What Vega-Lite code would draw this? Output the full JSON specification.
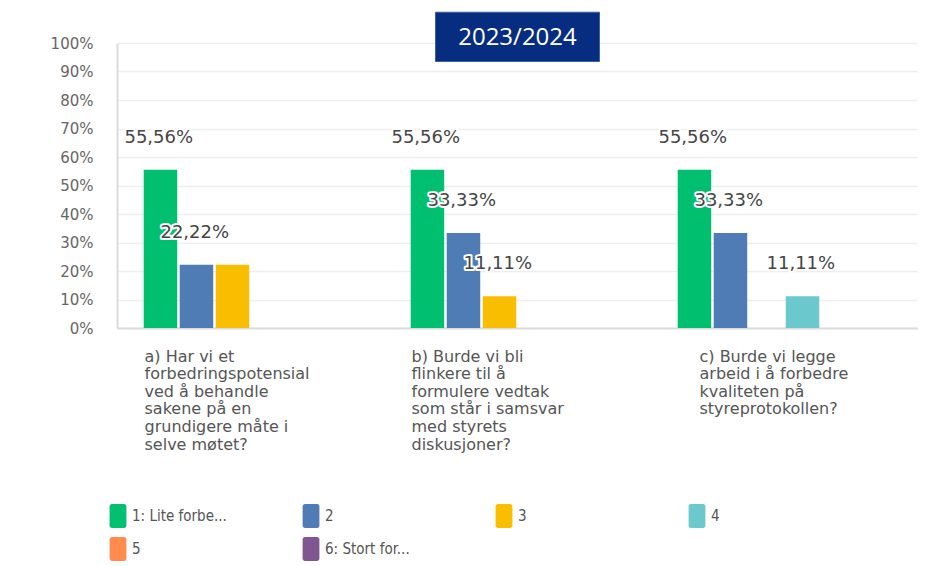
{
  "$schema": "https://vega.github.io/schema/vega-lite/v6.json",
  "background": "white",
  "padding": {"left": 50, "top": 11, "right": 0, "bottom": 0},
  "config": {
    "font": "DejaVu Sans",
    "view": {"stroke": null},
    "locale": {"number": {"decimal": ",", "thousands": " ", "grouping": [3], "currency": ["", " kr"]}},
    "axisY": {
      "title": null, "ticks": false, "labelFontSize": 15, "labelColor": "#666666", "labelPadding": 24,
      "domainColor": "#dcdcdc", "domainWidth": 2, "gridColor": "#eeeeee", "gridWidth": 1.5
    }
  },
  "width": 801,
  "height": 285,
  "datasets": {
    "answers": [
      {"question": "a) Har vi et\nforbedringspotensial\nved å behandle\nsakene på en\ngrundigere måte i\nselve møtet?", "level": "1: Lite forbe...", "share": 0.5556},
      {"question": "a) Har vi et\nforbedringspotensial\nved å behandle\nsakene på en\ngrundigere måte i\nselve møtet?", "level": "2", "share": 0.2222},
      {"question": "a) Har vi et\nforbedringspotensial\nved å behandle\nsakene på en\ngrundigere måte i\nselve møtet?", "level": "3", "share": 0.2222},
      {"question": "b) Burde vi bli\nflinkere til å\nformulere vedtak\nsom står i samsvar\nmed styrets\ndiskusjoner?", "level": "1: Lite forbe...", "share": 0.5556},
      {"question": "b) Burde vi bli\nflinkere til å\nformulere vedtak\nsom står i samsvar\nmed styrets\ndiskusjoner?", "level": "2", "share": 0.3333},
      {"question": "b) Burde vi bli\nflinkere til å\nformulere vedtak\nsom står i samsvar\nmed styrets\ndiskusjoner?", "level": "3", "share": 0.1111},
      {"question": "c) Burde vi legge\narbeid i å forbedre\nkvaliteten på\nstyreprotokollen?", "level": "1: Lite forbe...", "share": 0.5556},
      {"question": "c) Burde vi legge\narbeid i å forbedre\nkvaliteten på\nstyreprotokollen?", "level": "2", "share": 0.3333},
      {"question": "c) Burde vi legge\narbeid i å forbedre\nkvaliteten på\nstyreprotokollen?", "level": "4", "share": 0.1111}
    ],
    "heading": [{"title": "2023/2024", "question": "b) Burde vi bli\nflinkere til å\nformulere vedtak\nsom står i samsvar\nmed styrets\ndiskusjoner?"}]
  },
  "layer": [
    {
      "data": {"name": "answers"},
      "mark": {"type": "bar"},
      "encoding": {
        "x": {
          "field": "question", "type": "nominal", "sort": null,
          "scale": {"paddingInner": 0.2, "paddingOuter": 0.1},
          "axis": {
            "title": null, "ticks": false, "domainColor": "#dcdcdc", "domainWidth": 2,
            "labelAngle": 0, "labelAlign": "left", "labelBaseline": "top", "labelPadding": 20,
            "labelLineHeight": 17.6, "labelFontSize": 16, "labelColor": "#555555",
            "labelLimit": 0, "labelOverlap": false,
            "labelExpr": "split(datum.label, '\\n')",
            "labelOffset": {"condition": {"test": "indexof(datum.value, 'c)') == 0", "value": -85}, "value": -106}
          }
        },
        "y": {
          "field": "share", "type": "quantitative",
          "scale": {"domain": [0, 1], "nice": false},
          "axis": {"values": [0, 0.1, 0.2, 0.3, 0.4, 0.5, 0.6, 0.7, 0.8, 0.9, 1], "format": ".0%"}
        },
        "xOffset": {
          "field": "level", "type": "nominal",
          "scale": {"domain": ["1: Lite forbe...", "2", "3", "4", "5", "6: Stort for..."], "paddingInner": 0.07}
        },
        "color": {
          "field": "level", "type": "nominal",
          "scale": {
            "domain": ["1: Lite forbe...", "2", "3", "4", "5", "6: Stort for..."],
            "range": ["#00bf6f", "#507cb6", "#f9be00", "#6bc8cd", "#ff8b4f", "#7f5691"]
          },
          "legend": {
            "orient": "none", "legendX": -11, "legendY": 461, "direction": "horizontal",
            "columns": 4, "gridAlign": "all", "columnPadding": 72, "rowPadding": 8,
            "symbolType": "M-0.5,-1H0.5A0.2,0.2 0 0 1 0.7,-0.8V0.8A0.2,0.2 0 0 1 0.5,1H-0.5A0.2,0.2 0 0 1 -0.7,0.8V-0.8A0.2,0.2 0 0 1 -0.5,-1Z",
            "symbolSize": 576, "symbolStrokeWidth": 0, "symbolOpacity": 1,
            "labelFont": "'DejaVu Sans Condensed', Roboto, sans-serif", "labelFontSize": 15, "labelColor": "#555555",
            "labelOffset": 2, "labelLimit": 0, "title": null, "padding": 0
          }
        }
      }
    },
    {
      "data": {"name": "answers"},
      "transform": [
        {"window": [{"op": "lag", "field": "share", "as": "prev"}], "groupby": ["question"], "sort": [{"field": "level"}]},
        {"filter": "datum.prev == null || datum.share != datum.prev"}
      ],
      "mark": {"type": "text", "align": "left", "baseline": "middle", "dx": -36, "dy": -32, "fontSize": 18, "fill": "white", "stroke": "white", "strokeWidth": 4, "strokeJoin": "round"},
      "encoding": {
        "x": {"field": "question", "type": "nominal", "sort": null},
        "y": {"field": "share", "type": "quantitative", "axis": {"values": [0, 0.1, 0.2, 0.3, 0.4, 0.5, 0.6, 0.7, 0.8, 0.9, 1], "format": ".0%"}},
        "xOffset": {"field": "level", "type": "nominal"},
        "text": {"field": "share", "type": "quantitative", "format": ".2%"}
      }
    },
    {
      "data": {"name": "answers"},
      "transform": [
        {"window": [{"op": "lag", "field": "share", "as": "prev"}], "groupby": ["question"], "sort": [{"field": "level"}]},
        {"filter": "datum.prev == null || datum.share != datum.prev"}
      ],
      "mark": {"type": "text", "align": "left", "baseline": "middle", "dx": -36, "dy": -32, "fontSize": 18, "color": "#454545"},
      "encoding": {
        "x": {"field": "question", "type": "nominal", "sort": null},
        "y": {"field": "share", "type": "quantitative", "axis": {"values": [0, 0.1, 0.2, 0.3, 0.4, 0.5, 0.6, 0.7, 0.8, 0.9, 1], "format": ".0%"}},
        "xOffset": {"field": "level", "type": "nominal"},
        "text": {"field": "share", "type": "quantitative", "format": ".2%"}
      }
    },
    {
      "data": {"name": "heading"},
      "mark": {"type": "bar", "width": 164, "fill": "#062d7f", "stroke": "#3c5fa3", "strokeWidth": 1, "clip": false},
      "encoding": {
        "x": {"field": "question", "type": "nominal", "sort": null},
        "y": {"datum": 0.935, "type": "quantitative", "axis": {"values": [0, 0.1, 0.2, 0.3, 0.4, 0.5, 0.6, 0.7, 0.8, 0.9, 1], "format": ".0%"}},
        "y2": {"datum": 1.108}
      }
    },
    {
      "data": {"name": "heading"},
      "mark": {"type": "text", "font": "Open Sans", "fontSize": 24, "color": "white", "baseline": "middle", "align": "center"},
      "encoding": {
        "x": {"field": "question", "type": "nominal", "sort": null},
        "y": {"datum": 1.018, "type": "quantitative", "axis": {"values": [0, 0.1, 0.2, 0.3, 0.4, 0.5, 0.6, 0.7, 0.8, 0.9, 1], "format": ".0%"}},
        "text": {"field": "title", "type": "nominal"}
      }
    }
  ]
}
